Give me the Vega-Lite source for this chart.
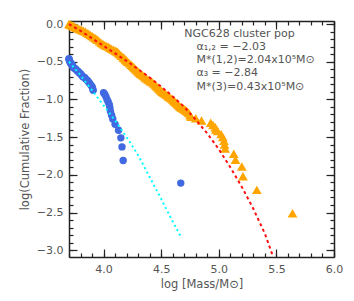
{
  "$schema": "https://vega.github.io/schema/vega-lite/v6.json",
  "width": 265,
  "height": 236,
  "autosize": {"type": "none"},
  "padding": {"left": 69, "top": 21, "right": 20, "bottom": 44},
  "background": "white",
  "config": {
    "view": {"stroke": null},
    "font": "DejaVu Sans",
    "axis": {
      "domainColor": "#222222",
      "domainWidth": 1.5,
      "tickColor": "#222222",
      "tickWidth": 1.2,
      "labelColor": "#555555",
      "labelFont": "DejaVu Sans",
      "labelFontSize": 11,
      "titleColor": "#555555",
      "titleFont": "DejaVu Sans",
      "titleFontSize": 11.5,
      "titleFontWeight": "normal",
      "grid": false,
      "labelFlush": false,
      "labelOverlap": false
    }
  },
  "datasets": {
    "orange": [
      {"logm": 5.64, "frac": -2.51}, {"logm": 5.33, "frac": -2.20}, {"logm": 5.21, "frac": -2.02},
      {"logm": 5.20, "frac": -1.89}, {"logm": 5.145, "frac": -1.80}, {"logm": 5.13, "frac": -1.72},
      {"logm": 5.055, "frac": -1.65}, {"logm": 5.05, "frac": -1.60}, {"logm": 5.045, "frac": -1.55},
      {"logm": 5.035, "frac": -1.50}, {"logm": 5.02, "frac": -1.46}, {"logm": 4.99, "frac": -1.42},
      {"logm": 4.975, "frac": -1.40}, {"logm": 4.97, "frac": -1.37}, {"logm": 4.95, "frac": -1.34},
      {"logm": 4.93, "frac": -1.31}, {"logm": 4.85, "frac": -1.28}, {"logm": 4.80, "frac": -1.25},
      {"logm": 4.76, "frac": -1.23}, {"logm": 4.75, "frac": -1.21}, {"logm": 4.74, "frac": -1.18},
      {"logm": 4.73, "frac": -1.165}, {"logm": 4.72, "frac": -1.15}, {"logm": 4.71, "frac": -1.14},
      {"logm": 4.70, "frac": -1.13}, {"logm": 4.69, "frac": -1.12}, {"logm": 4.68, "frac": -1.11},
      {"logm": 4.67, "frac": -1.10}, {"logm": 4.66, "frac": -1.09}, {"logm": 4.65, "frac": -1.075},
      {"logm": 4.64, "frac": -1.06}, {"logm": 4.63, "frac": -1.045}, {"logm": 4.62, "frac": -1.03},
      {"logm": 4.61, "frac": -1.015}, {"logm": 4.60, "frac": -1.00}, {"logm": 4.585, "frac": -0.985},
      {"logm": 4.57, "frac": -0.97}, {"logm": 4.56, "frac": -0.955}, {"logm": 4.55, "frac": -0.94},
      {"logm": 4.54, "frac": -0.93}, {"logm": 4.53, "frac": -0.92}, {"logm": 4.52, "frac": -0.91},
      {"logm": 4.51, "frac": -0.90}, {"logm": 4.50, "frac": -0.885}, {"logm": 4.49, "frac": -0.87},
      {"logm": 4.48, "frac": -0.855}, {"logm": 4.47, "frac": -0.84}, {"logm": 4.46, "frac": -0.825},
      {"logm": 4.45, "frac": -0.81}, {"logm": 4.435, "frac": -0.79}, {"logm": 4.42, "frac": -0.77},
      {"logm": 4.41, "frac": -0.76}, {"logm": 4.40, "frac": -0.75}, {"logm": 4.385, "frac": -0.735},
      {"logm": 4.37, "frac": -0.72}, {"logm": 4.36, "frac": -0.705}, {"logm": 4.35, "frac": -0.69},
      {"logm": 4.335, "frac": -0.675}, {"logm": 4.32, "frac": -0.66}, {"logm": 4.31, "frac": -0.645},
      {"logm": 4.30, "frac": -0.63}, {"logm": 4.29, "frac": -0.615}, {"logm": 4.28, "frac": -0.60},
      {"logm": 4.27, "frac": -0.585}, {"logm": 4.26, "frac": -0.57}, {"logm": 4.25, "frac": -0.555},
      {"logm": 4.24, "frac": -0.54}, {"logm": 4.225, "frac": -0.52}, {"logm": 4.21, "frac": -0.50},
      {"logm": 4.20, "frac": -0.485}, {"logm": 4.19, "frac": -0.47}, {"logm": 4.18, "frac": -0.455},
      {"logm": 4.17, "frac": -0.44}, {"logm": 4.155, "frac": -0.42}, {"logm": 4.14, "frac": -0.40},
      {"logm": 4.13, "frac": -0.385}, {"logm": 4.12, "frac": -0.37}, {"logm": 4.11, "frac": -0.36},
      {"logm": 4.10, "frac": -0.35}, {"logm": 4.085, "frac": -0.34}, {"logm": 4.07, "frac": -0.33},
      {"logm": 4.055, "frac": -0.315}, {"logm": 4.04, "frac": -0.30}, {"logm": 4.025, "frac": -0.29},
      {"logm": 4.01, "frac": -0.28}, {"logm": 3.995, "frac": -0.265}, {"logm": 3.98, "frac": -0.25},
      {"logm": 3.965, "frac": -0.23}, {"logm": 3.95, "frac": -0.21}, {"logm": 3.94, "frac": -0.20},
      {"logm": 3.93, "frac": -0.19}, {"logm": 3.915, "frac": -0.175}, {"logm": 3.90, "frac": -0.16},
      {"logm": 3.885, "frac": -0.145}, {"logm": 3.87, "frac": -0.13}, {"logm": 3.855, "frac": -0.115},
      {"logm": 3.84, "frac": -0.10}, {"logm": 3.825, "frac": -0.09}, {"logm": 3.81, "frac": -0.08},
      {"logm": 3.795, "frac": -0.07}, {"logm": 3.78, "frac": -0.06}, {"logm": 3.765, "frac": -0.05},
      {"logm": 3.75, "frac": -0.04}, {"logm": 3.74, "frac": -0.03}, {"logm": 3.73, "frac": -0.02},
      {"logm": 3.72, "frac": -0.015}, {"logm": 3.71, "frac": -0.01}, {"logm": 3.70, "frac": 0.0}
    ],
    "blue": [
      {"logm": 4.67, "frac": -2.11}, {"logm": 4.17, "frac": -1.81}, {"logm": 4.16, "frac": -1.63},
      {"logm": 4.15, "frac": -1.51}, {"logm": 4.13, "frac": -1.41}, {"logm": 4.10, "frac": -1.33},
      {"logm": 4.08, "frac": -1.26}, {"logm": 4.07, "frac": -1.21}, {"logm": 4.06, "frac": -1.16},
      {"logm": 4.055, "frac": -1.11}, {"logm": 4.05, "frac": -1.07}, {"logm": 4.04, "frac": -1.03},
      {"logm": 4.03, "frac": -1.00}, {"logm": 4.02, "frac": -0.96}, {"logm": 4.01, "frac": -0.93},
      {"logm": 4.00, "frac": -0.91}, {"logm": 3.91, "frac": -0.88}, {"logm": 3.905, "frac": -0.855},
      {"logm": 3.90, "frac": -0.83}, {"logm": 3.89, "frac": -0.81}, {"logm": 3.88, "frac": -0.79},
      {"logm": 3.87, "frac": -0.77}, {"logm": 3.86, "frac": -0.75}, {"logm": 3.845, "frac": -0.73},
      {"logm": 3.835, "frac": -0.71}, {"logm": 3.82, "frac": -0.70}, {"logm": 3.81, "frac": -0.68},
      {"logm": 3.80, "frac": -0.66}, {"logm": 3.79, "frac": -0.65}, {"logm": 3.78, "frac": -0.63},
      {"logm": 3.77, "frac": -0.62}, {"logm": 3.76, "frac": -0.60}, {"logm": 3.75, "frac": -0.59},
      {"logm": 3.74, "frac": -0.58}, {"logm": 3.735, "frac": -0.57}, {"logm": 3.73, "frac": -0.55},
      {"logm": 3.725, "frac": -0.54}, {"logm": 3.72, "frac": -0.53}, {"logm": 3.715, "frac": -0.52},
      {"logm": 3.71, "frac": -0.51}, {"logm": 3.705, "frac": -0.49}, {"logm": 3.70, "frac": -0.47},
      {"logm": 3.70, "frac": -0.46}
    ],
    "red": [
      {"logm": 3.70, "frac": 0.0}, {"logm": 3.80, "frac": -0.09}, {"logm": 3.90, "frac": -0.19},
      {"logm": 4.00, "frac": -0.29}, {"logm": 4.10, "frac": -0.39}, {"logm": 4.20, "frac": -0.49},
      {"logm": 4.30, "frac": -0.60}, {"logm": 4.40, "frac": -0.71}, {"logm": 4.50, "frac": -0.83},
      {"logm": 4.60, "frac": -0.96}, {"logm": 4.70, "frac": -1.10}, {"logm": 4.80, "frac": -1.27},
      {"logm": 4.90, "frac": -1.45}, {"logm": 5.00, "frac": -1.66}, {"logm": 5.10, "frac": -1.90},
      {"logm": 5.20, "frac": -2.16}, {"logm": 5.30, "frac": -2.45}, {"logm": 5.40, "frac": -2.78},
      {"logm": 5.47, "frac": -3.08}
    ],
    "cyan": [
      {"logm": 3.70, "frac": -0.50}, {"logm": 3.80, "frac": -0.68}, {"logm": 3.90, "frac": -0.88},
      {"logm": 4.00, "frac": -1.08}, {"logm": 4.10, "frac": -1.28}, {"logm": 4.20, "frac": -1.50},
      {"logm": 4.30, "frac": -1.74}, {"logm": 4.40, "frac": -2.03}, {"logm": 4.50, "frac": -2.32},
      {"logm": 4.60, "frac": -2.62}, {"logm": 4.67, "frac": -2.82}
    ],
    "notes": [
      {"logm": 4.70, "frac": -0.13, "label": "NGC628 cluster pop"},
      {"logm": 4.806, "frac": -0.30, "label": "α₁,₂ = −2.03"},
      {"logm": 4.806, "frac": -0.478, "label": "M*(1,2)=2.04x10⁵M⊙"},
      {"logm": 4.806, "frac": -0.65, "label": "α₃ = −2.84"},
      {"logm": 4.806, "frac": -0.836, "label": "M*(3)=0.43x10⁵M⊙"}
    ]
  },
  "layer": [
    {
      "data": {"name": "orange"},
      "mark": {"type": "point", "shape": "triangle-up", "filled": true, "color": "#FFA500", "opacity": 1, "size": 95},
      "encoding": {
        "x": {"field": "logm", "type": "quantitative", "scale": {"domain": [3.7, 6.0], "nice": false, "zero": false},
          "axis": {"orient": "bottom", "title": "log [Mass/M⊙]", "values": [4.0, 4.5, 5.0, 5.5, 6.0], "format": ".1f", "tickSize": -8, "labelPadding": 14, "titlePadding": 4}},
        "y": {"field": "frac", "type": "quantitative", "scale": {"domain": [-3.09, 0.04], "nice": false, "zero": false},
          "axis": {"orient": "left", "title": "log(Cumulative Fraction)", "values": [0.0, -0.5, -1.0, -1.5, -2.0, -2.5, -3.0], "format": ".1f", "tickSize": -8, "labelPadding": 14,
            "titleX": -44, "titleY": 118, "titleAngle": 270, "titleAlign": "center", "titleBaseline": "middle"}}
      }
    },
    {
      "data": {"name": "blue"},
      "mark": {"type": "point", "shape": "circle", "filled": true, "color": "#4169E1", "opacity": 1, "size": 55},
      "encoding": {
        "x": {"field": "logm", "type": "quantitative", "scale": {"domain": [3.7, 6.0], "nice": false, "zero": false},
          "axis": {"orient": "bottom", "title": null, "labels": false, "domain": false, "tickSize": -4,
            "values": [3.7, 3.8, 3.9, 4.0, 4.1, 4.2, 4.3, 4.4, 4.5, 4.6, 4.7, 4.8, 4.9, 5.0, 5.1, 5.2, 5.3, 5.4, 5.5, 5.6, 5.7, 5.8, 5.9, 6.0]}},
        "y": {"field": "frac", "type": "quantitative", "scale": {"domain": [-3.09, 0.04], "nice": false, "zero": false},
          "axis": {"orient": "left", "title": null, "labels": false, "domain": false, "tickSize": -4,
            "values": [0.0, -0.1, -0.2, -0.3, -0.4, -0.5, -0.6, -0.7, -0.8, -0.9, -1.0, -1.1, -1.2, -1.3, -1.4, -1.5, -1.6, -1.7, -1.8, -1.9, -2.0, -2.1, -2.2, -2.3, -2.4, -2.5, -2.6, -2.7, -2.8, -2.9, -3.0]}}
      }
    },
    {
      "data": {"name": "red"},
      "mark": {"type": "line", "color": "#FF1010", "strokeWidth": 2, "strokeDash": [3, 3]},
      "encoding": {
        "x": {"field": "logm", "type": "quantitative", "scale": {"domain": [3.7, 6.0], "nice": false, "zero": false},
          "axis": {"orient": "top", "title": null, "labels": false, "tickSize": -8, "values": [4.0, 4.5, 5.0, 5.5, 6.0]}},
        "y": {"field": "frac", "type": "quantitative", "scale": {"domain": [-3.09, 0.04], "nice": false, "zero": false},
          "axis": {"orient": "right", "title": null, "labels": false, "tickSize": -8, "values": [0.0, -0.5, -1.0, -1.5, -2.0, -2.5, -3.0]}}
      }
    },
    {
      "data": {"name": "cyan"},
      "mark": {"type": "line", "color": "#00FFFF", "strokeWidth": 2, "strokeDash": [2, 3]},
      "encoding": {
        "x": {"field": "logm", "type": "quantitative", "scale": {"domain": [3.7, 6.0], "nice": false, "zero": false},
          "axis": {"orient": "top", "title": null, "labels": false, "domain": false, "tickSize": -4,
            "values": [3.7, 3.8, 3.9, 4.0, 4.1, 4.2, 4.3, 4.4, 4.5, 4.6, 4.7, 4.8, 4.9, 5.0, 5.1, 5.2, 5.3, 5.4, 5.5, 5.6, 5.7, 5.8, 5.9, 6.0]}},
        "y": {"field": "frac", "type": "quantitative", "scale": {"domain": [-3.09, 0.04], "nice": false, "zero": false},
          "axis": {"orient": "right", "title": null, "labels": false, "domain": false, "tickSize": -4,
            "values": [0.0, -0.1, -0.2, -0.3, -0.4, -0.5, -0.6, -0.7, -0.8, -0.9, -1.0, -1.1, -1.2, -1.3, -1.4, -1.5, -1.6, -1.7, -1.8, -1.9, -2.0, -2.1, -2.2, -2.3, -2.4, -2.5, -2.6, -2.7, -2.8, -2.9, -3.0]}}
      }
    },
    {
      "data": {"name": "notes"},
      "mark": {"type": "text", "align": "left", "baseline": "middle", "fontSize": 11, "color": "#555555", "font": "DejaVu Sans"},
      "encoding": {
        "x": {"field": "logm", "type": "quantitative", "axis": null},
        "y": {"field": "frac", "type": "quantitative", "axis": null},
        "text": {"field": "label"}
      }
    }
  ],
  "resolve": {"axis": {"x": "independent", "y": "independent"}}
}
